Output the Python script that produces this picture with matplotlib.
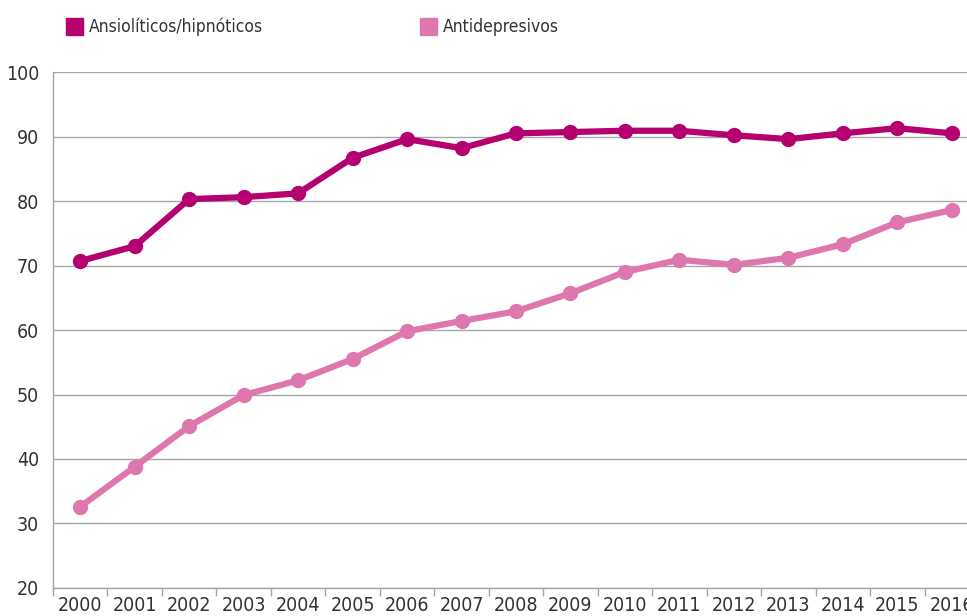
import matplotlib
matplotlib.use("Agg")
import matplotlib.pyplot as plt
from matplotlib.patches import Rectangle
from matplotlib.ticker import FixedLocator

years = ["2000", "2001", "2002", "2003", "2004", "2005", "2006", "2007", "2008",
         "2009", "2010", "2011", "2012", "2013", "2014", "2015", "2016"]
ansioliticos = [70.7, 73.0, 80.3, 80.6, 81.2, 86.7, 89.6, 88.2, 90.5,
                90.7, 90.9, 90.9, 90.2, 89.6, 90.5, 91.3, 90.5]
antidepresivos = [32.6, 38.8, 45.1, 49.9, 52.2, 55.5, 59.8, 61.4, 62.9,
                  65.7, 69.0, 70.9, 70.1, 71.2, 73.3, 76.7, 78.6]
series_names = ["Ansiolíticos/hipnóticos", "Antidepresivos"]
colors = ["#B5006F", "#DE77AE"]

plt.rcParams['font.family'] = ['DejaVu Sans']
plt.rcParams['font.stretch'] = 'condensed'
text_color = "#333333"
grid_color = "#A6A6A6"

fig = plt.figure(figsize=(9.67, 6.16), dpi=100)
ax = fig.add_axes([0.0548, 0.0455, 0.9576, 0.8375])

x = list(range(len(years)))
for vals, c in zip([ansioliticos, antidepresivos], colors):
    ax.plot(x, vals, color=c, lw=4.5, marker="o", ms=10, solid_capstyle="round")

ax.set_ylim(20, 100)
ax.set_xlim(-0.5, len(years) - 0.5)
ax.set_yticks(range(20, 101, 10))
ax.yaxis.grid(True, color=grid_color, lw=1)
ax.set_axisbelow(True)
ax.tick_params(axis="y", length=0, labelsize=14, labelcolor=text_color, pad=10)

ax.set_xticks(x)
ax.set_xticklabels(years)
ax.xaxis.set_minor_locator(FixedLocator([i - 0.5 for i in range(len(years) + 1)]))
ax.tick_params(axis="x", which="major", length=0, labelsize=14, labelcolor=text_color, pad=6)
ax.tick_params(axis="x", which="minor", length=6, color=grid_color, width=1)

for s in ["top", "right"]:
    ax.spines[s].set_visible(False)
for s in ["left", "bottom"]:
    ax.spines[s].set_color(grid_color)
    ax.spines[s].set_linewidth(1)

# legend
legend_x = [66 / 967, 420 / 967]
for lx, name, c in zip(legend_x, series_names, colors):
    fig.add_artist(Rectangle((lx, 1 - 35 / 616), 17 / 967, 17 / 616,
                             transform=fig.transFigure, color=c))
    fig.text(lx + 23 / 967, 1 - 27 / 616, name, fontsize=12.5, color=text_color,
             va="center", ha="left")

fig.savefig("out.png", dpi=100)
